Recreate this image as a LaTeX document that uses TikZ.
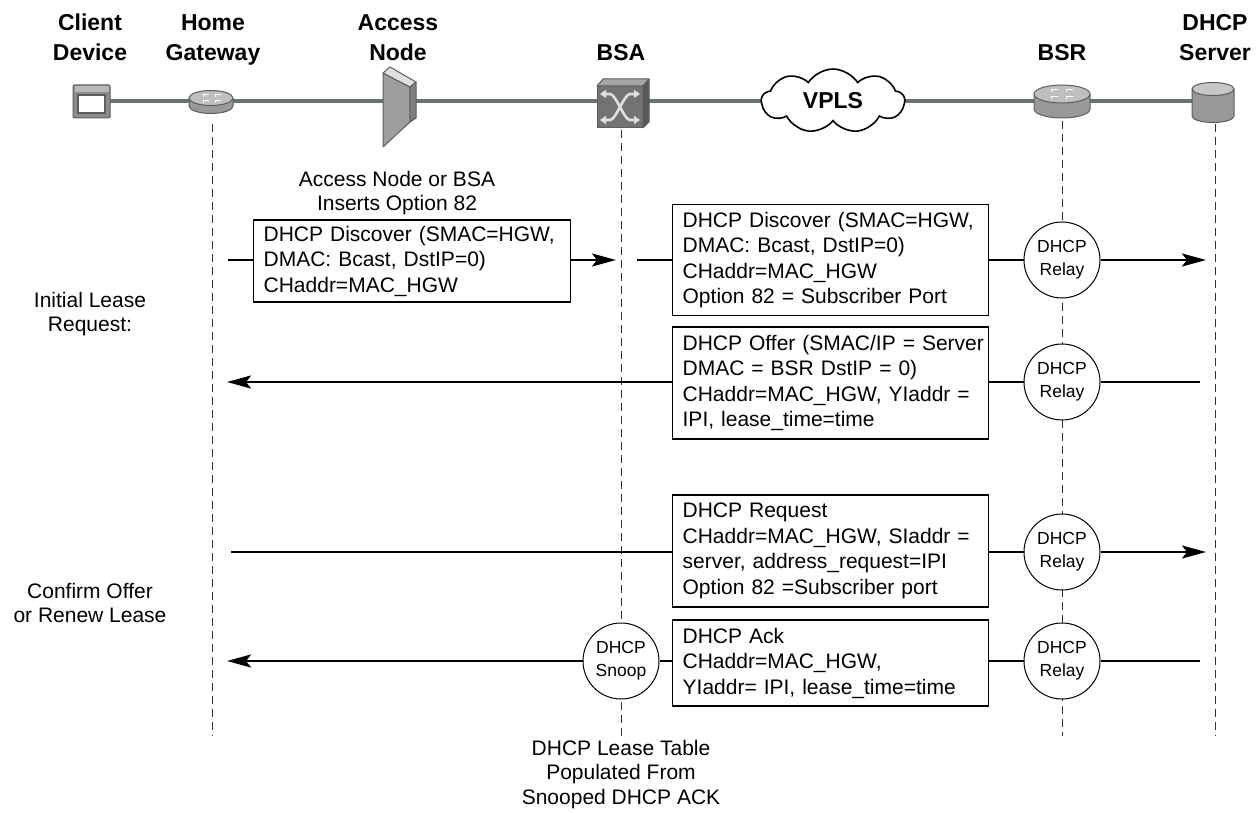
\documentclass[tikz,border=0pt]{standalone}
\usepackage{fontspec}
\setmainfont{Liberation Sans}
\usetikzlibrary{arrows.meta,shapes.symbols,shapes.geometric}
\definecolor{backbone}{RGB}{108,114,111}
\definecolor{iconline}{RGB}{90,95,92}
\begin{document}
\begin{tikzpicture}[x=1pt,y=-1pt,
  hdr/.style={font=\fontsize{23}{30}\selectfont\bfseries, align=center, inner sep=0pt, anchor=north},
  lbl/.style={font=\fontsize{21}{24.5}\selectfont, align=center, inner sep=0pt, anchor=north},
  msgbox/.style={draw, line width=1.3pt, fill=white, font=\fontsize{21}{25.5}\selectfont,
     align=left, inner xsep=10pt, inner ysep=0pt, anchor=west},
  proc/.style={circle, draw, line width=1pt, fill=white, minimum size=76pt, inner sep=0pt,
     align=center, font=\fontsize{17.5}{23}\selectfont},
  msg/.style={line width=2.5pt},
  marr/.style={line width=2.5pt, -{Stealth[length=24pt,width=13pt,inset=5pt]}},
  life/.style={line width=0.9pt, draw=black!80, dash pattern=on 8pt off 5pt},
  icon/.style={draw=iconline, line width=1pt, line join=round}
]
\useasboundingbox (0,0) rectangle (1258,813);

% ---------- headers ----------
\node[hdr] (hClient) at (90,14) {Client\\Device};
\node[hdr] (hHGW) at (213,14) {Home\\Gateway};
\node[hdr] (hAN) at (398,14) {Access\\Node};
\node[hdr] (hBSA) at (621,44) {BSA};
\node[hdr] (hBSR) at (1062,44) {BSR};
\node[hdr] (hSrv) at (1215,14) {DHCP\\Server};

% ---------- lifelines ----------
\coordinate (hgwT) at (212,124); \coordinate (hgwB) at (212,736);
\coordinate (bsaT) at (621,130); \coordinate (bsaB) at (621,736);
\coordinate (bsrT) at (1062,121); \coordinate (bsrB) at (1062,736);
\coordinate (srvT) at (1215,124); \coordinate (srvB) at (1215,736);
\draw[life] (hgwT) -- (hgwB);
\draw[life] (bsaT) -- (bsaB);
\draw[life] (bsrT) -- (bsrB);
\draw[life] (srvT) -- (srvB);

% ---------- backbone ----------
\coordinate (bbL) at (108,101); \coordinate (bbR) at (1195,101);
\draw[draw=backbone, line width=4pt] (bbL) -- (bbR);

% client device
\draw[icon, fill=black!45, rounded corners=1pt] (73,85) rectangle (110,118);
\fill[black!28] (75,86.5) rectangle (108.5,92);
\draw[draw=iconline, line width=1.6pt, fill=white] (78,95) rectangle (105,113);

% home gateway router
\draw[icon, fill=black!40] (189,98) -- (189,106) arc[start angle=180,end angle=0,x radius=22,y radius=7.5] -- (233,98);
\draw[icon, fill=black!25] (211,98) ellipse[x radius=22,y radius=7.5];
\foreach \a/\b in {203/95,215/95,203/101,215/101}
  \draw[white, line width=1pt] (\a,\b) -- ++(6,0) (\a,\b) -- ++(0,2);

% access node
\draw[icon, fill=black!38] (383,73) -- (410,87) -- (410,122) -- (383,147) -- cycle;
\draw[icon, fill=black!12] (383,73) -- (390,67) -- (416,82) -- (410,87) -- cycle;
\draw[icon, fill=black!50] (410,87) -- (416,82) -- (416,118) -- (410,122) -- cycle;

% BSA switch
\draw[icon, fill=black!55] (597,86) rectangle (643,128);
\draw[icon, fill=black!35] (597,86) -- (603,79) -- (649,79) -- (643,86) -- cycle;
\draw[icon, fill=black!65] (643,86) -- (649,79) -- (649,122) -- (643,128) -- cycle;
\draw[black!12, line width=2.6pt, {Triangle[length=6pt,width=8pt]}-{Triangle[length=6pt,width=8pt]}]
  (600,94) -- (610,94) .. controls (616,94) and (624,120) .. (630,120) -- (640,120);
\draw[black!12, line width=2.6pt, {Triangle[length=6pt,width=8pt]}-{Triangle[length=6pt,width=8pt]}]
  (600,120) -- (610,120) .. controls (616,120) and (624,94) .. (630,94) -- (640,94);

% VPLS cloud
\node[cloud, draw, line width=1.6pt, fill=white, cloud puffs=9, cloud puff arc=115, aspect=2.3,
  minimum width=143pt, minimum height=64pt, inner sep=0pt,
  font=\fontsize{23}{28}\selectfont\bfseries] (vpls) at (833,101) {VPLS};

% BSR router
\draw[icon, fill=black!40] (1034,94) -- (1034,109) arc[start angle=180,end angle=0,x radius=28,y radius=9] -- (1090,94);
\draw[icon, fill=black!25] (1062,94) ellipse[x radius=28,y radius=9];
\foreach \a/\b in {1051/90,1066/90,1051/97,1066/97}
  \draw[white, line width=1pt] (\a,\b) -- ++(7,0) (\a,\b) -- ++(0,2.5);

% DHCP server
\draw[icon, fill=black!40] (1192,89) -- (1192,116) arc[start angle=180,end angle=0,x radius=21,y radius=6.5] -- (1234,89);
\draw[icon, fill=black!22] (1213,89) ellipse[x radius=21,y radius=6.5];

% ---------- annotations ----------
\node[lbl] (opt82) at (397,171) {Access Node or BSA\\Inserts Option 82};
\node[lbl] (initl) at (90,292) {Initial Lease\\Request:};
\node[lbl] (confl) at (90,583) {Confirm Offer\\or Renew Lease};
\node[lbl] (lease) at (621,740) {DHCP Lease Table\\Populated From\\Snooped DHCP ACK};

% ---------- Discover ----------
\node[msgbox, text width=297pt, minimum height=82pt] (d1) at (253,261)
  {DHCP Discover (SMAC=HGW,\\DMAC: Bcast, DstIP=0)\\CHaddr=MAC\_HGW};
\node[msgbox, text width=296pt, minimum height=111pt] (d2) at (672,260)
  {DHCP Discover (SMAC=HGW,\\DMAC: Bcast, DstIP=0)\\CHaddr=MAC\_HGW\\Option 82 = Subscriber Port};
\node[proc] (r1) at (1062,260) {DHCP\\Relay};
\coordinate (d1s) at (228,260);
\coordinate (d1e) at (616,260);
\coordinate (d2s) at (637,260);
\coordinate (d2e) at (1206,260);
\draw[msg] (d1s) -- (d1s -| d1.west);
\draw[marr] (d1e -| d1.east) -- (d1e);
\draw[msg] (d2s) -- (d2s -| d2.west);
\draw[msg] (d2.east |- r1) -- (r1);
\draw[marr] (r1) -- (d2e);

% ---------- Offer ----------
\node[msgbox, text width=296pt, minimum height=112pt] (off) at (672,383)
  {\mbox{DHCP Offer (SMAC/IP = Server}\\DMAC = BSR DstIP = 0)\\CHaddr=MAC\_HGW, YIaddr =\\IPI, lease\_time=time};
\node[proc] (r2) at (1062,382) {DHCP\\Relay};
\coordinate (ofs) at (1200,382);
\coordinate (ofe) at (227,382);
\draw[msg] (ofs) -- (r2);
\draw[msg] (r2) -- (r2 -| off.east);
\draw[marr] (ofe -| off.west) -- (ofe);

% ---------- Request ----------
\node[msgbox, text width=296pt, minimum height=112pt] (req) at (672,551)
  {DHCP Request\\CHaddr=MAC\_HGW, SIaddr =\\server, address\_request=IPI\\Option 82 =Subscriber port};
\node[proc] (r3) at (1062,552) {DHCP\\Relay};
\coordinate (rqs) at (231,552);
\coordinate (rqe) at (1206,552);
\draw[msg] (rqs) -- (rqs -| req.west);
\draw[msg] (req.east |- r3) -- (r3);
\draw[marr] (r3) -- (rqe);

% ---------- Ack ----------
\node[msgbox, text width=296pt, minimum height=86pt] (ack) at (672,663)
  {DHCP Ack\\CHaddr=MAC\_HGW,\\YIaddr= IPI, lease\_time=time};
\node[proc] (r4) at (1062,661) {DHCP\\Relay};
\node[proc] (snoop) at (621,661) {DHCP\\Snoop};
\coordinate (aks) at (1200,661);
\coordinate (ake) at (227,661);
\draw[msg] (aks) -- (r4);
\draw[msg] (r4) -- (r4 -| ack.east);
\draw[msg] (snoop -| ack.west) -- (snoop);
\draw[marr] (snoop) -- (ake);
\end{tikzpicture}
\end{document}
